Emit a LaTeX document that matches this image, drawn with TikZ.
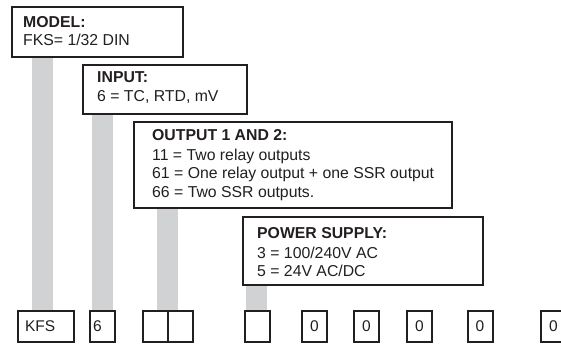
\documentclass[tikz,border=0pt]{standalone}
\usepackage{fontspec}
\setmainfont{Liberation Sans}
\usetikzlibrary{positioning,backgrounds}
\definecolor{frameInk}{RGB}{35,31,32}
\definecolor{barGray}{RGB}{208,210,211}

\begin{document}
\begin{tikzpicture}[x=1pt, y=-1pt,
    infobox/.style={draw=frameInk, line width=2pt, fill=white, anchor=north west, inner sep=0pt, outer sep=0pt},
    cell/.style={draw=frameInk, line width=2pt, fill=white, minimum height=31pt, inner sep=0pt, outer sep=0pt,
      text=frameInk, font=\fontsize{15.5}{18}\selectfont},
    txt/.style={anchor=base west, inner sep=0pt, text=frameInk, font=\fontsize{15.8}{19}\selectfont},
    bar/.style={draw=barGray, line width=21pt}]
    \useasboundingbox (0,0) rectangle (561,343);
    \clip (0,0) rectangle (561,343);
    % information boxes
    \node[infobox, minimum width=171pt, minimum height=50pt] (model) at (12,7) {};
    \node[infobox, minimum width=164pt, minimum height=49pt] (input) at (83,65) {};
    \node[infobox, minimum width=318pt, minimum height=86pt] (output) at (134,122) {};
    \node[infobox, minimum width=240pt, minimum height=68pt] (power) at (243,217) {};
    % box texts
    \node[txt] (modeltitle) at (23,27.5) {\textbf{MODEL:}};
    \node[txt] (modelline) at (23,45.5) {FKS= 1/32 DIN};
    \node[txt] (inputtitle) at (97,82.5) {\textbf{INPUT:}};
    \node[txt] (inputline) at (97,101) {6 = TC, RTD, mV};
    \node[txt] (outputtitle) at (152,140) {\textbf{OUTPUT 1 AND 2:}};
    \node[txt] (outputone) at (152,160) {11 = Two relay outputs};
    \node[txt] (outputtwo) at (152,178.5) {61 = One relay output + one SSR output};
    \node[txt] (outputthree) at (152,197.5) {66 = Two SSR outputs.};
    \node[txt] (powertitle) at (257,238) {\textbf{POWER SUPPLY:}};
    \node[txt] (powerone) at (257,258) {3 = 100/240V AC};
    \node[txt] (powertwo) at (257,276) {5 = 24V AC/DC};
    % code cells along the bottom
    \node[cell, minimum width=56pt, text width=42pt, align=left] (kfs) at (46,326.5) {KFS};
    \node[cell, minimum width=25pt, text width=19pt, align=left] (in6) at (102.5,326.5) {6};
    \node[cell, minimum width=25pt] (outa) at (155,326.5) {};
    \node[cell, minimum width=25pt] (outb) at (180,326.5) {};
    \node[cell, minimum width=25pt] (pwr) at (257.5,326.5) {};
    \node[cell, minimum width=25pt] (zeroa) at (314.5,326.5) {0};
    \node[cell, minimum width=25pt] (zerob) at (366.5,326.5) {0};
    \node[cell, minimum width=25pt] (zeroc) at (419.5,326.5) {0};
    \node[cell, minimum width=25pt] (zerod) at (480,326.5) {0};
    \node[cell, minimum width=25pt] (zeroe) at (553.5,326.5) {0};
    % grey leaders from each cell up to its box
    \begin{scope}[on background layer]
      \draw[bar] ([xshift=-3.5pt]kfs.north) -- ([xshift=-3.5pt]kfs.north |- model.south);
      \draw[bar] (in6.north) -- (in6.north |- input.south);
      \draw[bar] (outa.north east) -- (outa.north east |- output.south);
      \draw[bar] ([xshift=-1pt]pwr.north) -- ([xshift=-1pt]pwr.north |- power.south);
    \end{scope}
\end{tikzpicture}
\end{document}
